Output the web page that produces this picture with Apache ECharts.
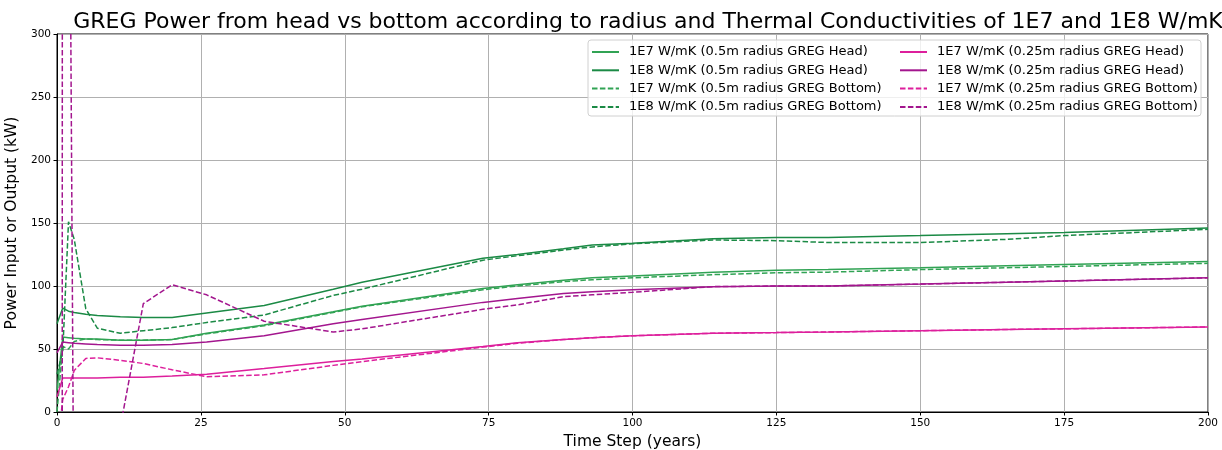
<!DOCTYPE html>
<html>
<head>
<meta charset="utf-8">
<script src="https://cdn.jsdelivr.net/npm/echarts@6/dist/echarts.min.js"></script>
<style>
  html, body { margin: 0; padding: 0; background: #fff; }
  #chart { width: 1222px; height: 450px; }
</style>
</head>
<body>
<div id="chart"></div>
<script>
// Simulation time steps (years)
const years = [0, 1, 2, 3, 5, 7, 11, 15, 20, 26, 36, 48, 53, 74, 80, 88, 93, 100, 114, 125, 134, 150, 165, 175, 200];

// Power (kW), 0.5 m radius GREG
const head05_1E7   = [17, 59.5, 59, 58.5, 58, 58, 57, 57, 57.5, 62.5, 69, 79.5, 84, 98, 101, 104.5, 106.5, 108, 111, 112.5, 113, 114.5, 116, 117, 119.5];
const head05_1E8   = [70, 82.5, 80, 79, 77.5, 76.5, 75.5, 75, 75, 78.5, 84.5, 97.5, 103, 122, 125, 129.5, 132.5, 134, 137.5, 138.5, 138.5, 140, 141.5, 142.5, 146];
const bottom05_1E7 = [0, 52, 50, 56, 58, 57.5, 57, 57, 57.5, 62, 68.5, 79, 83.5, 97, 100, 103.5, 105, 106.5, 109, 110.5, 111, 113, 114.5, 115.5, 118];
const bottom05_1E8 = [30, 48, 151, 137, 82, 66.5, 62.5, 64.5, 67, 71, 77, 92.5, 97.5, 120.5, 124, 128.5, 131, 133.5, 136.5, 136, 134.5, 134.5, 137, 140, 145];

// Power (kW), 0.25 m radius GREG
const head025_1E7   = [12, 27, 27, 27, 27, 27, 27.5, 27.5, 28.5, 30, 34.5, 40, 42, 52, 55, 57.5, 59, 60.5, 62.5, 63, 63.5, 64.5, 65.5, 66, 67.5];
const head025_1E8   = [47, 55.5, 55, 54.5, 54, 53.5, 53, 53, 53.5, 55.5, 60.5, 70, 73.5, 87, 90, 94, 95.5, 97, 99.5, 100, 100, 101.5, 103, 104, 106.5];
const bottom025_1E7 = [-30, 10, 20, 33, 42.5, 43, 41, 38.5, 33.5, 28, 29.5, 37, 40, 51.5, 54.5, 57.5, 59, 60.5, 62.5, 63, 63.5, 64.5, 65.5, 66, 67.5];
const bottom025_1E8 = [-20000, 2000, 600, -150, -100, -60, -12, 86, 101, 93, 72, 63.5, 66, 81.5, 85, 91.5, 93, 95, 99.5, 100, 100, 101.5, 103, 104, 106.5];

const xTicks = { min: 0, max: 200, step: 25 };
const yTicks = { min: 0, max: 300, step: 50 };

const GREEN_LIGHT = '#31a354';
const GREEN_DARK = '#1b8a45';
const PINK = '#dd1f9c';
const PURPLE = '#a3168e';
const DASH = [5.5, 2.4];

function line(name, values, color, dashed) {
  return {
    name: name,
    type: 'line',
    data: years.map((t, i) => [t, values[i]]),
    showSymbol: false,
    symbol: 'none',
    clip: true,
    animation: false,
    lineStyle: { color: color, width: 1.5, type: dashed ? DASH : 'solid' },
    itemStyle: { color: color }
  };
}

const seriesList = [
  line('1E7 W/mK (0.5m radius GREG Head)', head05_1E7, GREEN_LIGHT, false),
  line('1E8 W/mK (0.5m radius GREG Head)', head05_1E8, GREEN_DARK, false),
  line('1E7 W/mK (0.5m radius GREG Bottom)', bottom05_1E7, GREEN_LIGHT, true),
  line('1E8 W/mK (0.5m radius GREG Bottom)', bottom05_1E8, GREEN_DARK, true),
  line('1E7 W/mK (0.25m radius GREG Head)', head025_1E7, PINK, false),
  line('1E8 W/mK (0.25m radius GREG Head)', head025_1E8, PURPLE, false),
  line('1E7 W/mK (0.25m radius GREG Bottom)', bottom025_1E7, PINK, true),
  line('1E8 W/mK (0.25m radius GREG Bottom)', bottom025_1E8, PURPLE, true)
];

const FONT = 'DejaVu Sans';
const legendCommon = {
  orient: 'vertical',
  top: 45,
  itemWidth: 27,
  itemHeight: 10,
  itemGap: 4.3,
  padding: 0,
  selectedMode: false,
  // legend keys show only the line sample, no marker
  itemStyle: { opacity: 0 },
  textStyle: { fontFamily: FONT, fontSize: 13, color: '#000', lineHeight: 14, padding: [0, 0, 0, 5] }
};

const chart = echarts.init(document.getElementById('chart'), null, { renderer: 'canvas' });
chart.setOption({
  backgroundColor: '#fff',
  animation: false,
  title: {
    text: 'GREG Power from head vs bottom according to radius and Thermal Conductivities of 1E7 and 1E8 W/mK',
    left: 643,
    textAlign: 'center',
    top: 6,
    textStyle: { fontFamily: FONT, fontSize: 22, fontWeight: 'normal', color: '#000' }
  },
  grid: {
    left: 57, right: 14, top: 34, bottom: 38,
    outerBoundsMode: 'none',
    containLabel: false,
    show: true, borderColor: '#000', borderWidth: 1, backgroundColor: 'transparent'
  },
  graphic: [{
    type: 'rect',
    shape: { x: 588, y: 40, width: 613, height: 76, r: 3 },
    style: { fill: 'rgba(255,255,255,0.8)', stroke: '#d0d0d0', lineWidth: 1 },
    z: 50
  }],
  legend: [
    Object.assign({}, legendCommon, { left: 591, z: 60, data: seriesList.slice(0, 4).map(s => s.name) }),
    Object.assign({}, legendCommon, { left: 899, z: 60, data: seriesList.slice(4).map(s => s.name) })
  ],
  xAxis: {
    type: 'value',
    min: xTicks.min, max: xTicks.max, interval: xTicks.step,
    name: 'Time Step (years)',
    nameLocation: 'middle',
    nameGap: 22,
    nameTextStyle: { fontFamily: FONT, fontSize: 15.5, color: '#000' },
    axisLine: { show: true, onZero: false, lineStyle: { color: '#000', width: 1 } },
    axisTick: { show: true, length: 3.5, lineStyle: { color: '#000' } },
    axisLabel: { fontFamily: FONT, fontSize: 10.5, color: '#000', margin: 6 },
    splitLine: { show: true, lineStyle: { color: '#b0b0b0', width: 1 } }
  },
  yAxis: {
    type: 'value',
    min: yTicks.min, max: yTicks.max, interval: yTicks.step,
    name: 'Power Input or Output (kW)',
    nameLocation: 'middle',
    nameGap: 29,
    nameTextStyle: { fontFamily: FONT, fontSize: 15.5, color: '#000' },
    axisLine: { show: true, lineStyle: { color: '#000', width: 1 } },
    axisTick: { show: true, length: 3.5, lineStyle: { color: '#000' } },
    axisLabel: { fontFamily: FONT, fontSize: 10.5, color: '#000', margin: 6 },
    splitLine: { show: true, lineStyle: { color: '#b0b0b0', width: 1 } }
  },
  series: seriesList
});
</script>
</body>
</html>
